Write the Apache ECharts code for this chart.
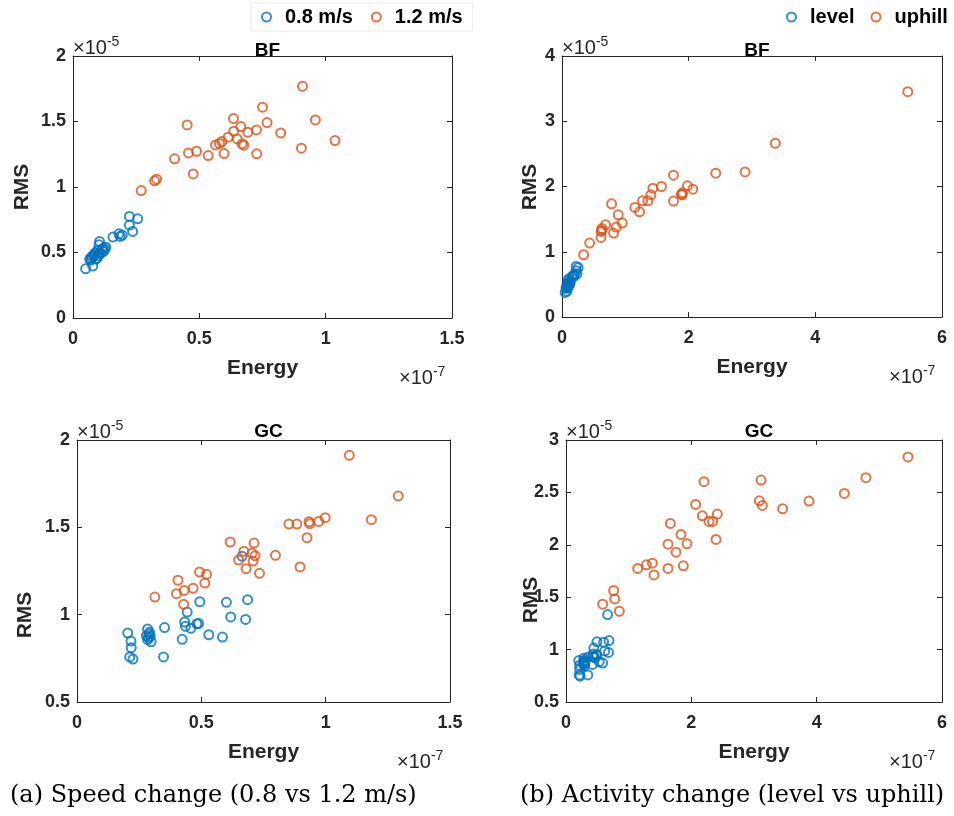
<!DOCTYPE html>
<html>
<head>
<meta charset="utf-8">
<script src="https://cdn.jsdelivr.net/npm/echarts@6/dist/echarts.min.js"></script>
<style>
html,body{margin:0;padding:0;background:#fff;}
#c{width:954px;height:816px;}
</style>
</head>
<body>
<div id="c"></div>
<script>
// ---- data (Energy x1e-7, RMS x1e-5) ----
const bf08 = [[0.050,0.376],[0.078,0.396],[0.066,0.450],[0.075,0.470],[0.084,0.483],[0.095,0.457],[0.105,0.584],[0.105,0.496],[0.115,0.521],[0.121,0.508],[0.130,0.541],[0.158,0.618],[0.182,0.643],[0.187,0.623],[0.195,0.633],[0.223,0.775],[0.223,0.709],[0.236,0.661],[0.256,0.757],[0.069,0.440],[0.082,0.475],[0.090,0.450],[0.100,0.475],[0.111,0.496],[0.119,0.534],[0.126,0.526],[0.097,0.516],[0.087,0.496],[0.072,0.457],[0.103,0.559]];
const bf12 = [[0.270,0.973],[0.323,1.047],[0.331,1.060],[0.402,1.215],[0.452,1.474],[0.457,1.260],[0.489,1.273],[0.476,1.100],[0.535,1.240],[0.564,1.321],[0.580,1.332],[0.589,1.347],[0.598,1.255],[0.614,1.380],[0.635,1.522],[0.636,1.426],[0.650,1.367],[0.664,1.461],[0.669,1.329],[0.676,1.319],[0.692,1.418],[0.726,1.436],[0.727,1.253],[0.750,1.609],[0.768,1.492],[0.822,1.413],[0.904,1.296],[0.908,1.769],[0.959,1.512],[1.037,1.355]];
const bfLevel = bf08;
const bfUphill = [[0.342,0.954],[0.436,1.133],[0.615,1.219],[0.620,1.311],[0.631,1.357],[0.688,1.413],[0.783,1.735],[0.814,1.286],[0.857,1.378],[0.888,1.566],[0.951,1.439],[1.151,1.679],[1.224,1.612],[1.272,1.781],[1.356,1.781],[1.403,1.872],[1.435,1.974],[1.571,2.000],[1.760,2.173],[1.760,1.776],[1.886,1.883],[1.902,1.903],[1.981,2.010],[2.065,1.959],[2.428,2.204],[2.890,2.224],[3.368,2.663],[5.460,3.454],[1.897,1.872],[0.625,1.327]];
const gc08 = [[0.204,0.895],[0.217,0.849],[0.218,0.811],[0.212,0.758],[0.225,0.746],[0.284,0.918],[0.292,0.899],[0.279,0.880],[0.295,0.876],[0.284,0.857],[0.298,0.845],[0.352,0.926],[0.348,0.758],[0.423,0.859],[0.433,0.958],[0.436,0.933],[0.443,1.015],[0.458,0.922],[0.482,0.948],[0.494,1.074],[0.530,0.885],[0.585,0.872],[0.601,1.071],[0.618,0.987],[0.664,1.334],[0.678,0.973],[0.686,1.086],[0.289,0.889],[0.287,0.868],[0.489,0.950]];
const gc12 = [[0.313,1.101],[0.400,1.120],[0.406,1.197],[0.429,1.059],[0.431,1.139],[0.467,1.151],[0.493,1.244],[0.514,1.181],[0.521,1.231],[0.616,1.416],[0.650,1.313],[0.671,1.363],[0.680,1.263],[0.704,1.351],[0.708,1.307],[0.712,1.410],[0.716,1.338],[0.734,1.237],[0.798,1.340],[0.852,1.519],[0.884,1.519],[0.897,1.273],[0.925,1.441],[0.933,1.532],[0.936,1.521],[0.972,1.534],[0.998,1.555],[1.095,1.912],[1.184,1.544],[1.292,1.679]];
const gcLevel = gc08;
const gcUphill = [[0.585,1.433],[0.761,1.564],[0.777,1.484],[0.851,1.366],[1.144,1.774],[1.282,1.809],[1.378,1.825],[1.404,1.713],[1.628,1.774],[1.628,2.006],[1.665,2.204],[1.755,1.930],[1.835,2.099],[1.872,1.799],[1.931,2.010],[2.069,2.385],[2.176,2.277],[2.202,2.602],[2.282,2.223],[2.340,2.223],[2.394,2.051],[2.415,2.293],[3.085,2.420],[3.112,2.618],[3.133,2.376],[3.457,2.344],[3.878,2.417],[4.441,2.490],[4.787,2.640],[5.457,2.838]];

const xRanges = [[0,1.5,0.5],[0,6,2],[0,1.5,0.5],[0,6,2]];
const yRanges = [[0,2,0.5],[0,4,1],[0.5,2,0.5],[0.5,3,0.5]];
const titles = ['BF','BF','GC','GC'];
const legendA = ['0.8 m/s','1.2 m/s'];
const legendB = ['level','uphill'];
const captions = ['(a) Speed change (0.8 vs 1.2 m/s)','(b) Activity change (level vs uphill)'];

// ---- layout ----
const BLUE = '#0072BD', ORANGE = '#D95319', AX = '#262626';
const grids = [
  {left:73, top:56, width:379, height:262},
  {left:562, top:56, width:380, height:261},
  {left:77, top:440, width:373, height:262},
  {left:566, top:440, width:376, height:262}
];
const rmsPos = [[22,187],[530,187],[25,615],[531,600]];
const titleOff = [20, 20, 23, 23];

const chart = echarts.init(document.getElementById('c'), null, {renderer:'canvas'});
const xAxis = [], yAxis = [], series = [], title = [], graphic = [];
const tickFont = {color:AX, fontFamily:'Liberation Sans', fontWeight:'bold', fontSize:18};
grids.forEach((g,i)=>{
  const [xmin,xmax,xi] = xRanges[i], [ymin,ymax,yi] = yRanges[i];
  xAxis.push({gridIndex:i, type:'value', min:xmin, max:xmax, interval:xi, position:'bottom',
    axisLine:{show:true, onZero:false, lineStyle:{color:AX, width:1}},
    axisTick:{show:true, inside:true, length:5, lineStyle:{color:AX}},
    axisLabel:Object.assign({margin:12}, tickFont),
    splitLine:{show:false},
    name:'Energy', nameLocation:'middle', nameGap:40,
    nameTextStyle:{color:AX, fontFamily:'Liberation Sans', fontWeight:'bold', fontSize:21}});
  xAxis.push({gridIndex:i, type:'value', min:xmin, max:xmax, interval:xi, position:'top',
    axisLine:{show:true, onZero:false, lineStyle:{color:AX, width:1}},
    axisTick:{show:true, inside:true, length:5, lineStyle:{color:AX}},
    axisLabel:{show:false}, splitLine:{show:false}});
  yAxis.push({gridIndex:i, type:'value', min:ymin, max:ymax, interval:yi, position:'left',
    axisLine:{show:true, onZero:false, lineStyle:{color:AX, width:1}},
    axisTick:{show:true, inside:true, length:5, lineStyle:{color:AX}},
    axisLabel:Object.assign({margin:7}, tickFont),
    splitLine:{show:false}});
  yAxis.push({gridIndex:i, type:'value', min:ymin, max:ymax, interval:yi, position:'right',
    axisLine:{show:true, onZero:false, lineStyle:{color:AX, width:1}},
    axisTick:{show:true, inside:true, length:5, lineStyle:{color:AX}},
    axisLabel:{show:false}, splitLine:{show:false}});
  title.push({text:titles[i], left:g.left + g.width/2, top:g.top-titleOff[i], textAlign:'center',
    textStyle:{color:'#000', fontFamily:'Liberation Sans', fontWeight:'bold', fontSize:19}});
  graphic.push({type:'text', x:rmsPos[i][0], y:rmsPos[i][1], rotation:Math.PI/2, style:{
    text:'RMS', textAlign:'center', textVerticalAlign:'middle', fill:AX,
    fontFamily:'Liberation Sans', fontWeight:'bold', fontSize:21}});
  // exponent labels
  graphic.push({type:'text', left:g.left, top:g.top-21, style:{
    rich:{a:{fontFamily:'Liberation Sans', fontSize:20, fill:AX}, b:{fontFamily:'Liberation Sans', fontSize:14, fill:AX, padding:[0,0,12,0]}},
    text:'{a|×10}{b|-5}'}});
  graphic.push({type:'text', left:g.left + g.width - 53, top:g.top + g.height + 47, style:{
    rich:{a:{fontFamily:'Liberation Sans', fontSize:20, fill:AX}, b:{fontFamily:'Liberation Sans', fontSize:14, fill:AX, padding:[0,0,12,0]}},
    text:'{a|×10}{b|-7}'}});
});

function sc(name, data, idx, color){
  return {type:'scatter', name:name, xAxisIndex:idx*2, yAxisIndex:idx*2, data:data,
    symbol:'circle', symbolSize:9, silent:true,
    itemStyle:{color:'rgba(255,255,255,0)', borderColor:color, borderWidth:2}};
}
series.push(sc(legendA[0], bf08, 0, BLUE));
series.push(sc(legendA[1], bf12, 0, ORANGE));
series.push(sc(legendB[0], bfLevel, 1, BLUE));
series.push(sc(legendB[1], bfUphill, 1, ORANGE));
series.push(sc(legendA[0], gc08, 2, BLUE));
series.push(sc(legendA[1], gc12, 2, ORANGE));
series.push(sc(legendB[0], gcLevel, 3, BLUE));
series.push(sc(legendB[1], gcUphill, 3, ORANGE));

const legendText = {color:'#000', fontFamily:'Liberation Sans', fontWeight:'bold', fontSize:20, padding:[0,0,0,9]};
const legend = [
  {data:legendA, left:251, top:3, itemWidth:9, itemHeight:9, itemGap:18, textStyle:legendText,
   icon:'circle', itemStyle:{color:'rgba(255,255,255,0)', borderWidth:2}, selectedMode:false,
   borderColor:'#ececec', borderWidth:1, padding:[4,10,4,10]},
  {data:legendB, left:776, top:3, width:190, orient:'horizontal', itemWidth:9, itemHeight:9, itemGap:16, textStyle:legendText,
   icon:'circle', itemStyle:{color:'rgba(255,255,255,0)', borderWidth:2}, selectedMode:false, padding:[4,0,4,10]}
];

captions.forEach((t,i)=>{
  graphic.push({type:'text', left: i===0 ? 10 : 520, top:784, style:{text:t, fontFamily:'DejaVu Serif', fontSize:24, fill:'#000'}});
});

chart.setOption({animation:false, backgroundColor:'#fff', grid:grids, xAxis, yAxis, series, title, legend, graphic});
</script>
</body>
</html>
